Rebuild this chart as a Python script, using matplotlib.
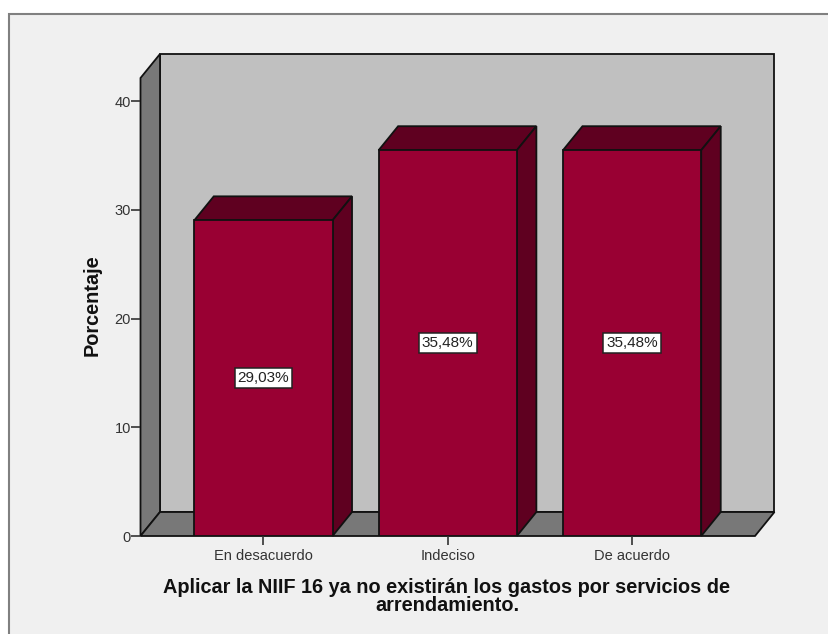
import matplotlib
matplotlib.use("Agg")
from matplotlib import pyplot as plt
from matplotlib.patches import Polygon, Rectangle

categories = ["En desacuerdo", "Indeciso", "De acuerdo"]
percentages = [29.03, 35.48, 35.48]
value_labels = ["29,03%", "35,48%", "35,48%"]
y_ticks = [0, 10, 20, 30, 40]

plt.rcParams["font.family"] = ["Liberation Sans", "DejaVu Sans"]

W, H = 829, 634
fig = plt.figure(figsize=(W/100, H/100), dpi=100, facecolor="white")

# outer chart frame runs off the right and bottom edges
fig.add_artist(Rectangle((9.5/W, -0.01), 1.0, 1 - 13.5/H + 0.01, transform=fig.transFigure,
                         facecolor="#f0f0f0", edgecolor="#808080", linewidth=1.5, zorder=-1))

# front plane of the 3d box, in pixels
left, right, top, bottom = 140.5, 755.0, 78.0, 536.0
ax = fig.add_axes([left/W, 1 - bottom/H, (right-left)/W, (bottom-top)/H])
ax.set_xlim(-2/3, 8/3)
ax.set_ylim(0, 42.12)
ax.patch.set_visible(False)

# depth of the box in data units
dx = 19.5/184.4
dy = 24/10.875
x0, x1 = ax.get_xlim()
y0, y1 = ax.get_ylim()
bar_w = 0.75
edge = "#111111"


def face(points, color, z):
    ax.add_patch(Polygon(points, closed=True, facecolor=color, edgecolor=edge,
                         linewidth=1.3, joinstyle="miter", clip_on=False, zorder=z))


# back wall, side wall and floor
face([(x0+dx, y0+dy), (x1+dx, y0+dy), (x1+dx, y1+dy), (x0+dx, y1+dy)], "#c0c0c0", 1)
face([(x0, y0), (x0+dx, y0+dy), (x0+dx, y1+dy), (x0, y1)], "#787878", 1.1)
face([(x0, y0), (x1, y0), (x1+dx, y0+dy), (x0+dx, y0+dy)], "#787878", 1.1)

for i, v in enumerate(percentages):
    l = i - bar_w/2
    r = i + bar_w/2
    z = 2 + i
    face([(l, v), (r, v), (r+dx, v+dy), (l+dx, v+dy)], "#5f0020", z)
    face([(r, 0), (r+dx, dy), (r+dx, v+dy), (r, v)], "#5f0020", z)
    ax.bar(i, v, width=bar_w, color="#990033", edgecolor=edge, linewidth=1.3, zorder=z+0.1)
    ax.text(i, v/2, value_labels[i], ha="center", va="center", fontsize=11, color="#222222",
            zorder=6, bbox=dict(boxstyle="square,pad=0.2", facecolor="white",
                                edgecolor="#222222", linewidth=1.1))

for s in ax.spines.values():
    s.set_visible(False)

ax.set_yticks(y_ticks)
ax.set_xticks(range(len(categories)))
ax.set_xticklabels(categories)
ax.tick_params(axis="both", length=6.5, width=1.2, color="#333333", labelcolor="#333333",
               labelsize=10.5, pad=3)
ax.tick_params(axis="y", labelsize=10.5, pad=0.5)

ax.set_ylabel("Porcentaje", fontsize=14.3, fontweight="bold", color="#111111")
ax.yaxis.set_label_coords((102-left)/(right-left), 0.505)

fig.text(447/W, 1 - 596.5/H, "Aplicar la NIIF 16 ya no existirán los gastos por servicios de\narrendamiento.",
         ha="center", va="center", fontsize=14.3, fontweight="bold", color="#111111", linespacing=0.95)

fig.savefig("out.png", dpi=100)
plt.close()
